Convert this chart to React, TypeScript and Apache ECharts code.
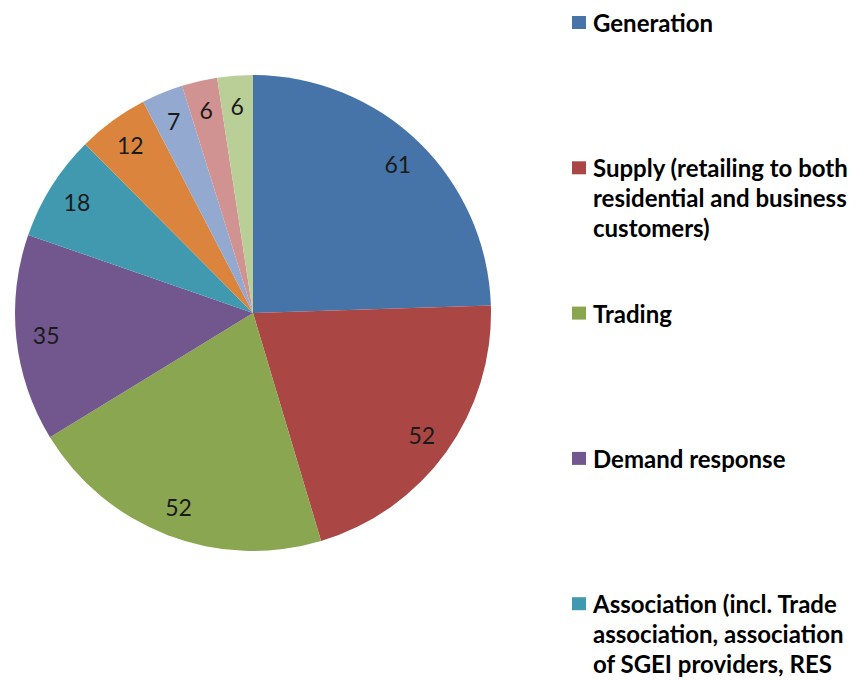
import React, { useEffect, useRef } from "react";
import * as echarts from "echarts";

const categories = [
  "Generation",
  "Supply (retailing to both residential and business customers)",
  "Trading",
  "Demand response",
  "Association (incl. Trade association, association of SGEI providers, RES",
  "Network operation (TSO/DSO)",
  "Consumer organisation",
  "Public authority",
  "Other",
];
const values = [61, 52, 52, 35, 18, 12, 7, 6, 6];
const colors = [
  "#4674A9",
  "#AA4644",
  "#8AA650",
  "#72578F",
  "#4199AF",
  "#DB843D",
  "#93A9D0",
  "#D19392",
  "#BACE98",
];

const CHART_H = 680;

export default function App() {
  const ref = useRef<HTMLDivElement>(null);
  useEffect(() => {
    if (!ref.current) return;
    const chart = echarts.init(ref.current, undefined, { renderer: "svg" });
    const data = categories.map((name, i) => ({
      name,
      value: values[i],
      itemStyle: { color: colors[i] },
    }));
    const legendTop = 7.5;
    const legendStep = 145.3;
    // Only the legend entries that fall inside the chart area (as in the reference)
    const visibleLegend = categories
      .map((name, i) => ({ name, i }))
      .filter(({ i }) => legendTop + i * legendStep + 30 <= CHART_H);
    chart.setOption({
      animation: false,
      backgroundColor: "#ffffff",
      series: [
        {
          type: "pie",
          center: [253, 313],
          radius: [0, 238],
          startAngle: 90,
          clockwise: true,
          silent: true,
          data,
          itemStyle: { borderWidth: 0 },
          label: { show: false },
          labelLine: { show: false },
        },
        {
          type: "pie",
          center: [253, 313],
          radius: [172, 238],
          startAngle: 90,
          clockwise: true,
          silent: true,
          data: categories.map((name, i) => ({
            name,
            value: values[i],
            itemStyle: { color: "rgba(0,0,0,0)" },
          })),
          itemStyle: { borderWidth: 0 },
          label: {
            show: true,
            position: "inside",
            formatter: "{c}",
            fontFamily: "Lato",
            fontSize: 23,
            color: "#1a1a1a",
          },
          labelLine: { show: false },
        },
      ],
      graphic: visibleLegend.map(({ name, i }) => ({
        type: "group",
        x: 572,
        y: legendTop + i * legendStep,
        silent: true,
        children: [
          {
            type: "rect",
            shape: { x: 0, y: 8.5, width: 14, height: 13 },
            style: { fill: colors[i] },
          },
          {
            type: "text",
            x: 21,
            y: 0,
            style: {
              text: name,
              fontFamily: "Lato",
              fontWeight: "bold",
              fontSize: 24,
              lineHeight: 30,
              fill: "#000000",
              width: 268,
              overflow: "break",
              verticalAlign: "top",
              align: "left",
            },
          },
        ],
      })),
    });
    return () => chart.dispose();
  }, []);
  return (
    <div
      ref={ref}
      style={{ position: "fixed", left: 0, top: 0, width: 860, height: CHART_H }}
    />
  );
}
